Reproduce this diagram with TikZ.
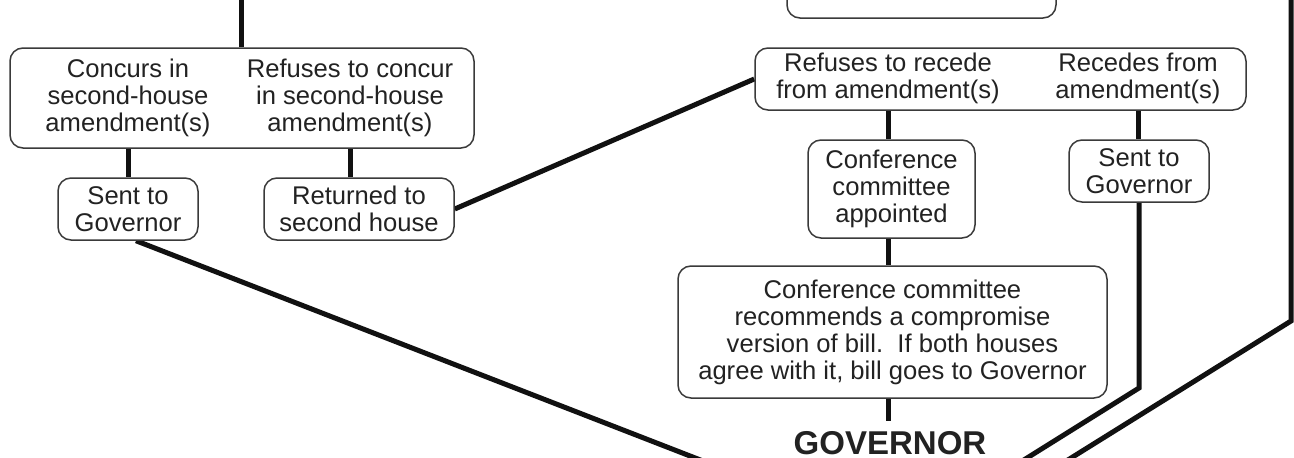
\documentclass[tikz,border=0pt]{standalone}
\usepackage{fontspec}
\setmainfont{Liberation Sans}
\usetikzlibrary{backgrounds}
\definecolor{ink}{HTML}{222222}
\definecolor{edgec}{HTML}{3A3A3A}
\definecolor{wire}{HTML}{111111}
\tikzset{
  box/.style={draw=edgec, line width=1.5pt, rounded corners=13pt, fill=white, inner sep=0pt, align=center, text=ink, font=\fontsize{25.6}{27}\selectfont},
  lbl/.style={inner sep=0pt, align=center, text=ink, font=\fontsize{25.6}{27}\selectfont},
  wirel/.style={draw=wire, line width=5pt},
}
\begin{document}
\begin{tikzpicture}[x=1pt,y=-1pt]
\useasboundingbox (0,0) rectangle (1294,458);
% boxes
\node[box, minimum width=464pt, minimum height=100pt] (lb) at (242,98) {};
\node[lbl] (lbl) at (128,98) {Concurs in\\second-house\\amendment(s)};
\node[lbl] (lbr) at (350,98) {Refuses to concur\\in second-house\\amendment(s)};
\node[box, minimum width=140pt, minimum height=62pt] (sl) at (128,209) {Sent to\\Governor};
\node[box, minimum width=190pt, minimum height=62pt] (ret) at (359,209) {Returned to\\second house};
\node[box, minimum width=269pt, minimum height=50pt] (tp) at (921.5,-7) {};
\node[box, minimum width=491pt, minimum height=62pt] (rb) at (1000.5,79) {};
\node[lbl] (rbl) at (888,78) {Refuses to recede\\from amendment(s)};
\node[lbl] (rbr) at (1138,78) {Recedes from\\amendment(s)};
\node[box, minimum width=167pt, minimum height=98pt] (cc) at (891.5,189) {Conference\\committee\\appointed};
\node[box, minimum width=140pt, minimum height=62pt] (sr) at (1139,171) {Sent to\\Governor};
\node[box, minimum width=429pt, minimum height=132pt] (big) at (892.5,332) {Conference committee\\recommends a compromise\\version of bill.\ \ If both houses\\agree with it, bill goes to Governor};
\node[font=\bfseries\fontsize{33}{33}\selectfont, text=ink, inner xsep=0pt, inner ysep=10pt, anchor=base] (gov) at (890,454) {GOVERNOR};
% free ends
\coordinate (topin) at (241,-5);
\coordinate (govl) at (721,468);
\coordinate (srbend) at (1139,388);
\coordinate (srend) at (1011,468);
\coordinate (rtop) at (1291,-5);
\coordinate (rbend) at (1291,321);
\coordinate (rend) at (1055,468);
% connectors
\begin{scope}[on background layer]
\fill[white] (0,0) rectangle (1294,458);
\draw[wirel] (topin) -- (topin |- lb.north);
\draw[wirel] (lbl |- lb.south) -- (lbl |- sl.north);
\draw[wirel] (lbr |- lb.south) -- (lbr |- ret.north);
\draw[wirel] (ret.east) -- (rb.west);
\draw[wirel] ([xshift=8pt]sl.south) -- (govl);
\draw[wirel] (rbl |- rb.south) -- (rbl |- cc.north);
\draw[wirel] (rbl |- cc.south) -- (rbl |- big.north);
\draw[wirel] (rbl |- big.south) -- (rbl |- gov.north);
\draw[wirel] (rbr |- rb.south) -- (rbr |- sr.north);
\draw[wirel] (sr.south) -- (srbend) -- (srend);
\draw[wirel] (rtop) -- (rbend) -- (rend);
\end{scope}
\end{tikzpicture}
\end{document}
